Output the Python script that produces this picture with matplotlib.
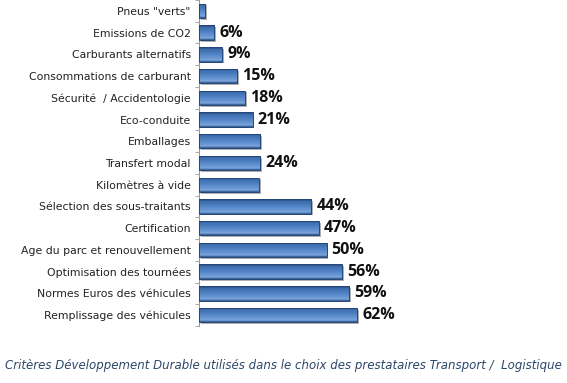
import numpy as np
import matplotlib.pyplot as plt
from matplotlib.colors import LinearSegmentedColormap

categories = [
    'Pneus "verts"',
    "Emissions de CO2",
    "Carburants alternatifs",
    "Consommations de carburant",
    "Sécurité  / Accidentologie",
    "Eco-conduite",
    "Emballages",
    "Transfert modal",
    "Kilomètres à vide",
    "Sélection des sous-traitants",
    "Certification",
    "Age du parc et renouvellement",
    "Optimisation des tournées",
    "Normes Euros des véhicules",
    "Remplissage des véhicules",
]
values = [2.5, 6, 9, 15, 18, 21, 24, 24, 23.5, 44, 47, 50, 56, 59, 62]
labels = ["", "6%", "9%", "15%", "18%", "21%", "", "24%", "", "44%", "47%", "50%", "56%", "59%", "62%"]
caption = "Critères Développement Durable utilisés dans le choix des prestataires Transport /  Logistique"

fig = plt.figure(figsize=(5.67, 3.83), dpi=100)
ax = fig.add_axes([199 / 567, 57 / 383, 255 / 567, 326 / 383])

y = np.arange(len(categories))
bar_h = 0.66

# vertical shading of the bars: dark rim, thin highlight, mid blue, dark bottom
cmap = LinearSegmentedColormap.from_list(
    "barshade",
    [(0.0, "#2a5088"), (0.12, "#7ea7dc"), (0.25, "#6b98d4"),
     (0.55, "#4f82c4"), (0.85, "#3d6cab"), (1.0, "#1f3f70")])
grad = np.linspace(0, 1, 64).reshape(-1, 1)

# shadow
ax.barh(y + 0.08, values, height=bar_h, left=0.7, color="#b0b0b0", zorder=1)
bars = ax.barh(y, values, height=bar_h, color="#4f81bd", zorder=2)
for b in bars:
    x0, y0 = b.get_x(), b.get_y()
    w, h = b.get_width(), b.get_height()
    im = ax.imshow(grad, extent=(x0, x0 + w, y0, y0 + h), aspect="auto",
                   cmap=cmap, origin="upper", zorder=3)
    im.set_clip_path(b)
    ax.add_patch(plt.Rectangle((x0, y0), w, h, fill=False, edgecolor="#23477c",
                               linewidth=0.7, zorder=4))

for yi, v, lab in zip(y, values, labels):
    if lab:
        ax.text(v + 2, yi, lab, va="center", ha="left", fontsize=11.5,
                fontweight="bold", fontstyle="normal", color="#111111",
                family="Open Sans")

ax.set_xlim(0, 100)
ax.set_ylim(len(categories) - 0.5, -0.5)
ax.set_yticks(y)
ax.set_yticklabels(categories, fontsize=7.8, color="#222222")
ax.set_yticks(np.arange(len(categories) + 1) - 0.5, minor=True)
ax.tick_params(axis="y", which="major", length=0, pad=6)
ax.tick_params(axis="y", which="minor", length=3, color="#999999")
ax.set_xticks([])
for s in ["top", "right", "bottom"]:
    ax.spines[s].set_visible(False)
ax.spines["left"].set_color("#999999")
ax.spines["left"].set_linewidth(0.8)

fig.text(0.009, 1 - 366 / 383, caption, fontsize=8.5, style="italic",
         color="#2b4668", va="center", ha="left")

fig.savefig("out.png", dpi=100)
